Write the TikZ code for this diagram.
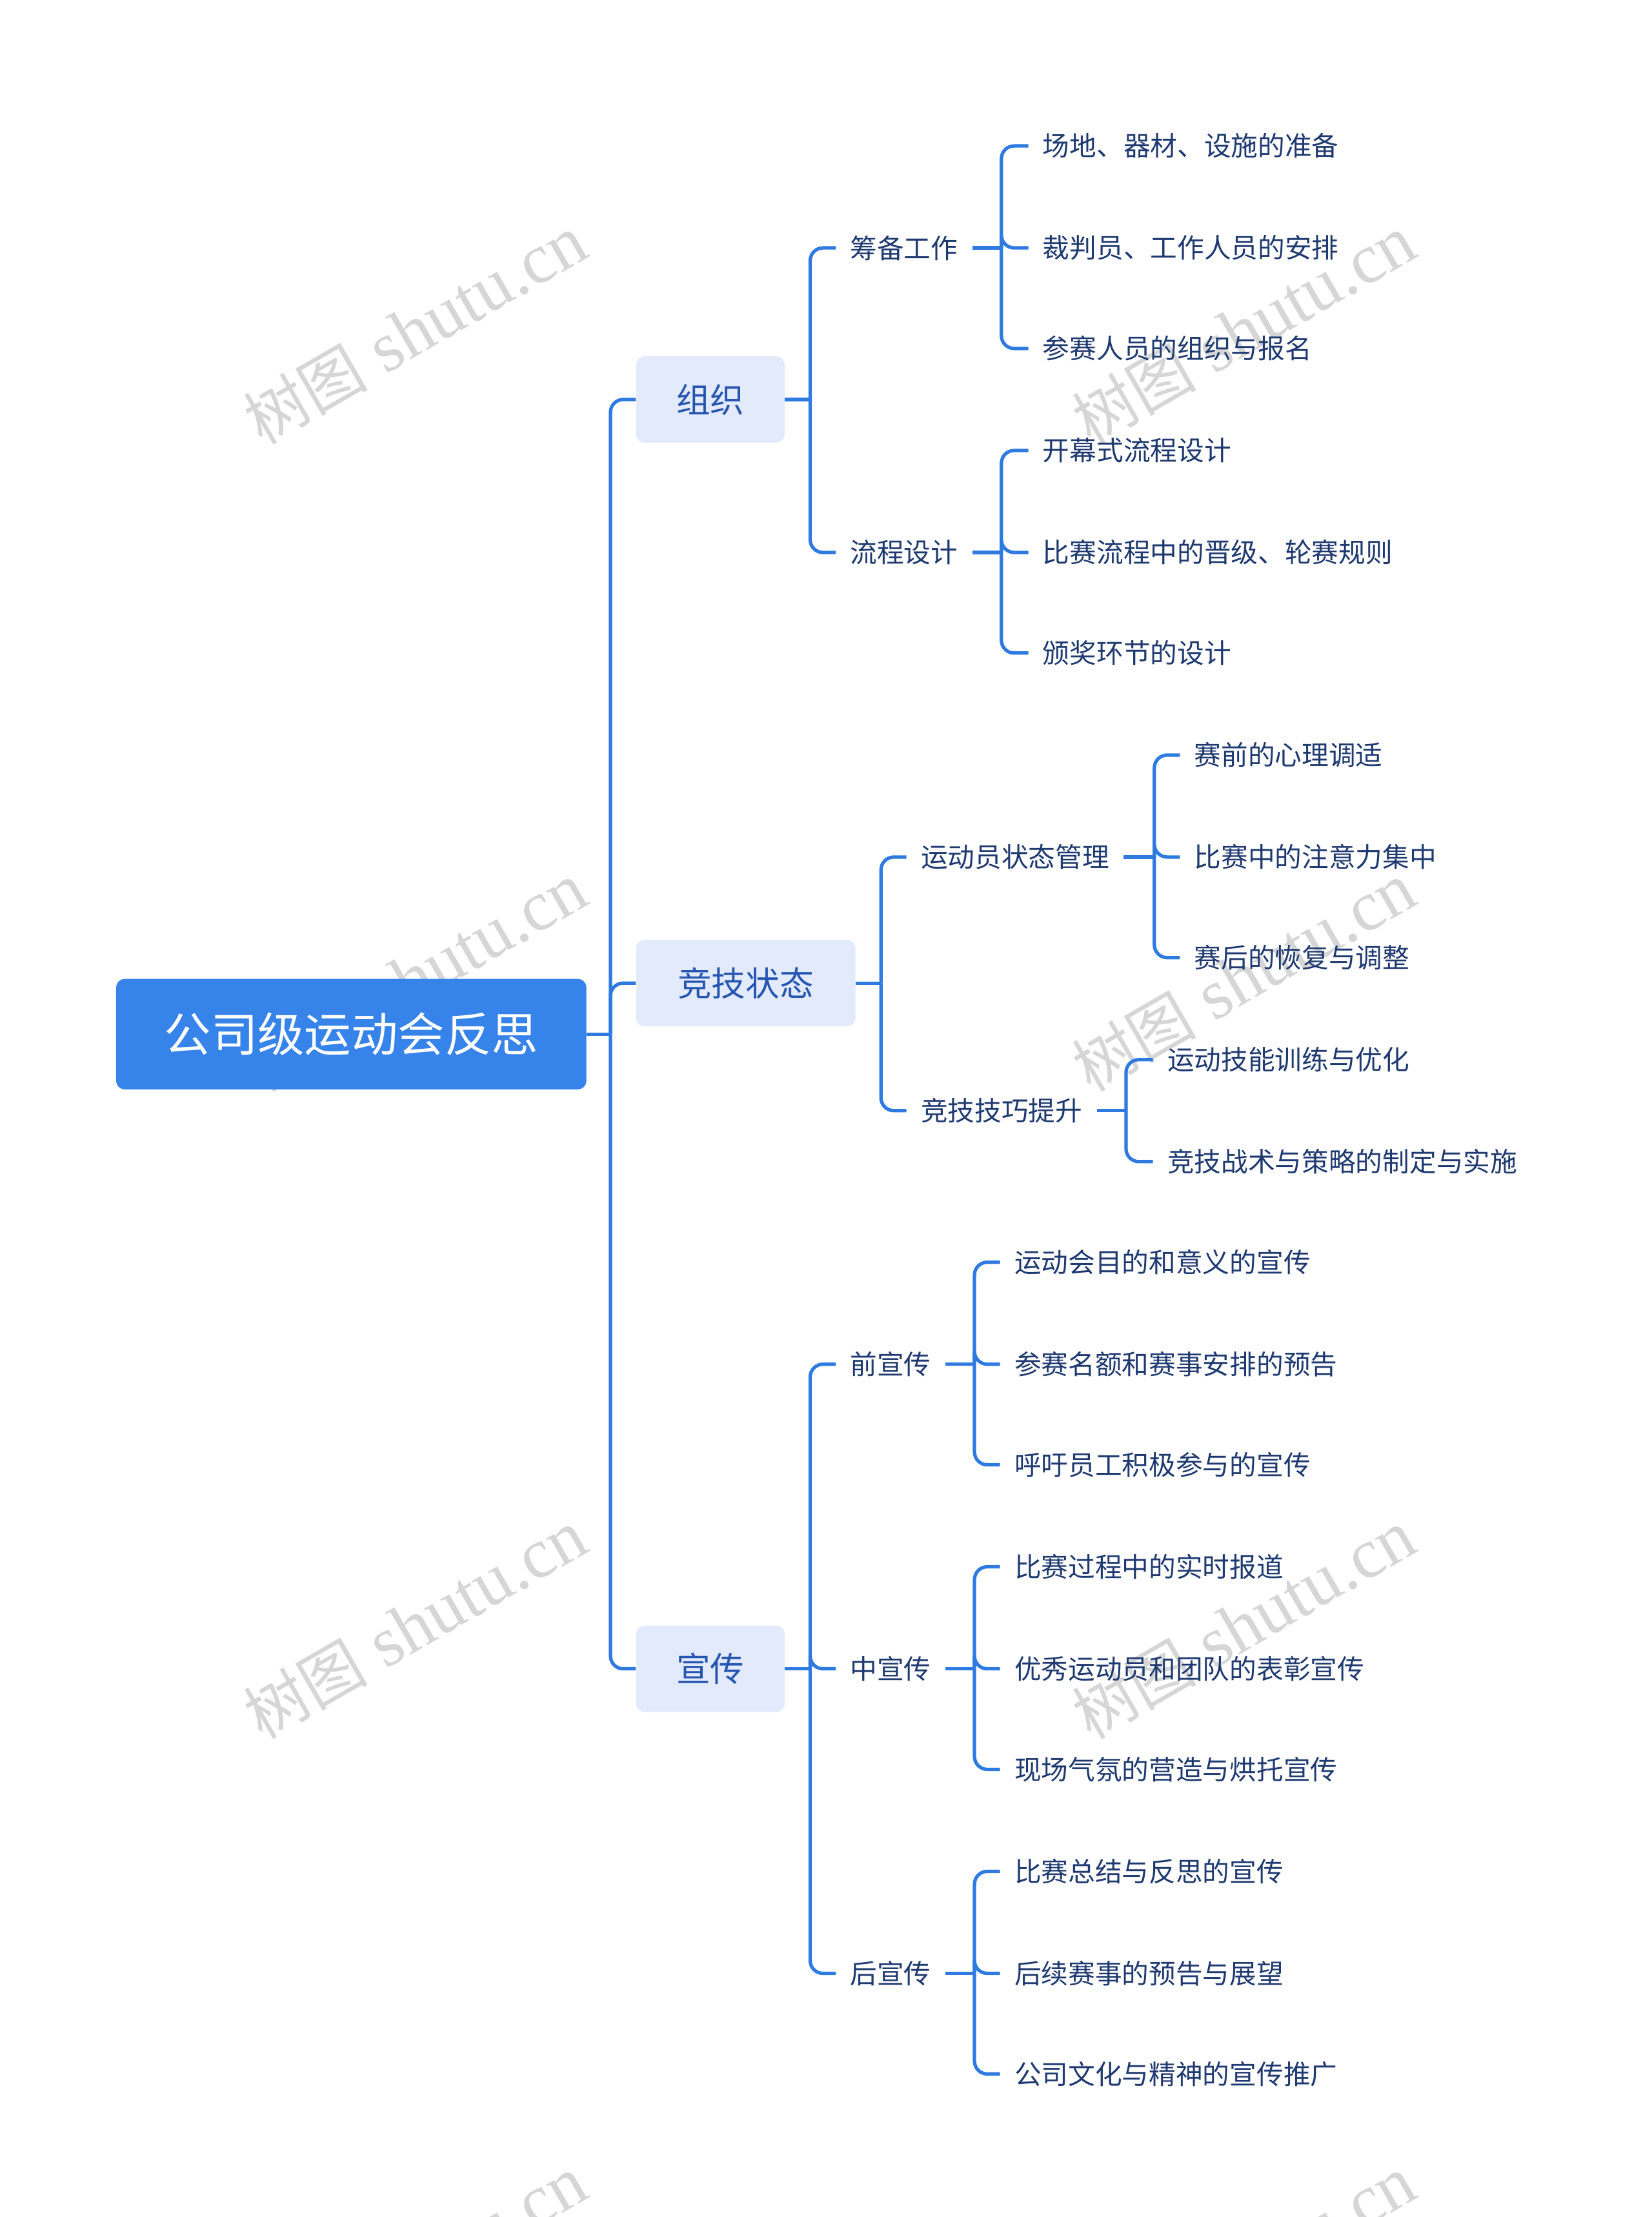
\documentclass[tikz,border=0pt]{standalone}
\usepackage{fontspec}
\setmainfont{Noto Sans CJK SC}
\newfontfamily\wmfont{Liberation Serif}
\newfontfamily\wmcjk{Noto Sans CJK SC}
\begin{document}
\begin{tikzpicture}[x=1pt,y=-1pt,
  ln/.style={draw=lineblue,line width=2.4pt,rounded corners=9pt},
  rootbox/.style={fill=rootblue,rounded corners=6pt,text=white,font=\fontsize{33}{36}\selectfont,minimum width=332pt,minimum height=78pt,inner sep=0pt},
  lonebox/.style={fill=boxblue,rounded corners=6pt,text=textblue,font=\fontsize{24}{28}\selectfont,minimum height=61pt,inner sep=0pt},
  leaf/.style={anchor=west,inner sep=0pt,text=leafblue,font=\fontsize{19}{22}\selectfont},
  wm/.style={text=black!16,font=\wmfont\fontsize{50}{54}\selectfont,rotate=30}]
\definecolor{lineblue}{HTML}{2E7AE0}
\definecolor{rootblue}{HTML}{3683EA}
\definecolor{boxblue}{HTML}{E3EAFC}
\definecolor{textblue}{HTML}{2556B0}
\definecolor{leafblue}{HTML}{1F3A70}
\useasboundingbox (0,0) rectangle (1166,1565);
\fill[white] (0,0) rectangle (1166,1565);
% watermarks
\foreach \i/\x/\y in {1/293/233,2/878/233,3/293/690,4/878/690,5/293/1147,6/878/1147,7/293/1603,8/878/1603}
  \node[wm] (w\i) at (\x,\y) {{\wmcjk\fontsize{44}{48}\selectfont 树图} shutu.cn};
% root
\node[rootbox] (root) at (248,730) {公司级运动会反思};
\node[lonebox,minimum width=105pt] (a) at (501.5,282) {组织};
\node[lonebox,minimum width=155pt] (b) at (526.5,694) {竞技状态};
\node[lonebox,minimum width=105pt] (c) at (501.5,1178) {宣传};
\draw[ln] (root.east) -- (431,730);
\foreach \n in {a,b,c} \draw[ln] (431,730) |- (\n.west);
% level 2
\node[leaf] (a1) at (600,175) {筹备工作};
\node[leaf] (a2) at (600,390) {流程设计};
\node[leaf] (b1) at (650,605) {运动员状态管理};
\node[leaf] (b2) at (650,784) {竞技技巧提升};
\node[leaf] (c1) at (600,963) {前宣传};
\node[leaf] (c2) at (600,1178) {中宣传};
\node[leaf] (c3) at (600,1393) {后宣传};
\draw[ln] (a.east) -- (572,282);
\foreach \n in {a1,a2} \draw[ln] (572,282) |- ([xshift=-10pt]\n.west);
\draw[ln] (b.east) -- (622,694);
\foreach \n in {b1,b2} \draw[ln] (622,694) |- ([xshift=-10pt]\n.west);
\draw[ln] (c.east) -- (572,1178);
\foreach \n in {c1,c2,c3} \draw[ln] (572,1178) |- ([xshift=-10pt]\n.west);
% level 3
\node[leaf] (a11) at (736,103) {场地、器材、设施的准备};
\node[leaf] (a12) at (736,175) {裁判员、工作人员的安排};
\node[leaf] (a13) at (736,246) {参赛人员的组织与报名};
\node[leaf] (a21) at (736,318) {开幕式流程设计};
\node[leaf] (a22) at (736,390) {比赛流程中的晋级、轮赛规则};
\node[leaf] (a23) at (736,461) {颁奖环节的设计};
\node[leaf] (b11) at (843,533) {赛前的心理调适};
\node[leaf] (b12) at (843,605) {比赛中的注意力集中};
\node[leaf] (b13) at (843,676) {赛后的恢复与调整};
\node[leaf] (b21) at (824,748) {运动技能训练与优化};
\node[leaf] (b22) at (824,820) {竞技战术与策略的制定与实施};
\node[leaf] (c11) at (716,891) {运动会目的和意义的宣传};
\node[leaf] (c12) at (716,963) {参赛名额和赛事安排的预告};
\node[leaf] (c13) at (716,1034) {呼吁员工积极参与的宣传};
\node[leaf] (c21) at (716,1106) {比赛过程中的实时报道};
\node[leaf] (c22) at (716,1178) {优秀运动员和团队的表彰宣传};
\node[leaf] (c23) at (716,1249) {现场气氛的营造与烘托宣传};
\node[leaf] (c31) at (716,1321) {比赛总结与反思的宣传};
\node[leaf] (c32) at (716,1393) {后续赛事的预告与展望};
\node[leaf] (c33) at (716,1464) {公司文化与精神的宣传推广};
\foreach \p/\bx/\py/\kids in {a1/707/175/{a11,a12,a13},a2/707/390/{a21,a22,a23},b1/815/605/{b11,b12,b13},b2/795/784/{b21,b22},c1/688/963/{c11,c12,c13},c2/688/1178/{c21,c22,c23},c3/688/1393/{c31,c32,c33}}{
  \draw[ln] ([xshift=10pt]\p.east) -- (\bx,\py);
  \foreach \k in \kids \draw[ln] (\bx,\py) |- ([xshift=-10pt]\k.west);
}
\end{tikzpicture}
\end{document}
